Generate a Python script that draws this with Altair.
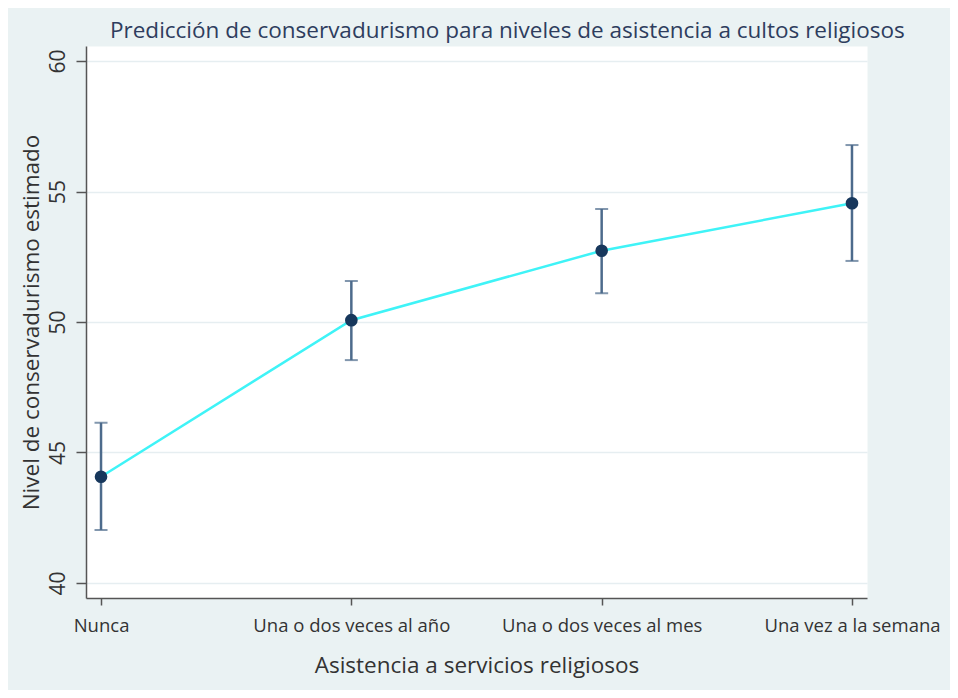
import altair as alt
import pandas as pd

categories = ["Nunca", "Una o dos veces al año", "Una o dos veces al mes", "Una vez a la semana"]
estimates = [44.07, 50.07, 52.73, 54.55]
lower = [42.03, 48.54, 51.10, 52.34]
upper = [46.14, 51.57, 54.33, 56.78]
y_ticks = [40, 45, 50, 55, 60]

df = pd.DataFrame({"cat": categories, "est": estimates, "lo": lower, "hi": upper})

FONT = "Open Sans"
TXT = "#333333"

x = alt.X(
    "cat:N",
    sort=categories,
    scale=alt.Scale(type="point", padding=0.06),
    axis=alt.Axis(
        title="Asistencia a servicios religiosos",
        labelAngle=0,
        labelFontSize=18.5,
        labelColor=TXT,
        labelFont=FONT,
        labelPadding=11,
        labelLimit=400,
        tickSize=7,
        tickColor="#555555",
        tickWidth=1.5,
        domainColor="#555555",
        domainWidth=1.5,
        titleFontSize=22.5,
        titleFont=FONT,
        titleFontWeight="normal",
        titleColor=TXT,
        titlePadding=20,
        grid=False,
    ),
)
yscale = alt.Scale(domain=[39.425, 60.575], nice=False, zero=False)
y = alt.Y(
    "est:Q",
    scale=yscale,
    axis=alt.Axis(
        title="Nivel de conservadurismo estimado",
        values=y_ticks,
        labelAngle=-90,
        labelAlign="center",
        labelBaseline="bottom",
        labelFontSize=21,
        labelColor=TXT,
        labelFont=FONT,
        labelPadding=8,
        tickSize=10,
        tickColor="#555555",
        tickWidth=1.5,
        domainColor="#555555",
        domainWidth=1.5,
        titleFontSize=22.5,
        titleFont=FONT,
        titleFontWeight="normal",
        titleColor=TXT,
        titlePadding=4,
        grid=True,
        gridColor="#e6eef1",
        gridWidth=1.5,
    ),
)

base = alt.Chart(df)

line = base.mark_line(color="#3ff3f7", strokeWidth=2.5).encode(x=x, y=y)
bars = base.mark_rule(color="#4d6b8c", strokeWidth=2.5).encode(
    x=x, y=alt.Y("lo:Q", scale=yscale), y2="hi:Q"
)
cap_lo = base.mark_tick(color="#4d6b8c", size=13, thickness=2, orient="horizontal").encode(
    x=x, y=alt.Y("lo:Q", scale=yscale)
)
cap_hi = base.mark_tick(color="#4d6b8c", size=13, thickness=2, orient="horizontal").encode(
    x=x, y=alt.Y("hi:Q", scale=yscale)
)
pts = base.mark_point(filled=True, color="#17375c", size=160, opacity=1).encode(x=x, y=y)

chart = (
    alt.layer(line, bars, cap_lo, cap_hi, pts)
    .properties(
        width=781,
        height=552,
        autosize=alt.AutoSizeParams(type="none"),
        padding={"left": 78, "top": 38, "right": 83, "bottom": 92},
        title=alt.TitleParams(
            "Predicción de conservadurismo para niveles de asistencia a cultos religiosos",
            anchor="start",
            frame="group",
            dx=24,
            dy=25,
            offset=11,
            baseline="alphabetic",
            fontSize=22.5,
            font=FONT,
            fontWeight="normal",
            color="#2e3d5e",
        ),
    )
    .configure(background="#eaf2f3")
    .configure_view(fill="white", strokeOpacity=0)
)

chart.save("out.html", embed_options={"renderer": "svg", "actions": False})
